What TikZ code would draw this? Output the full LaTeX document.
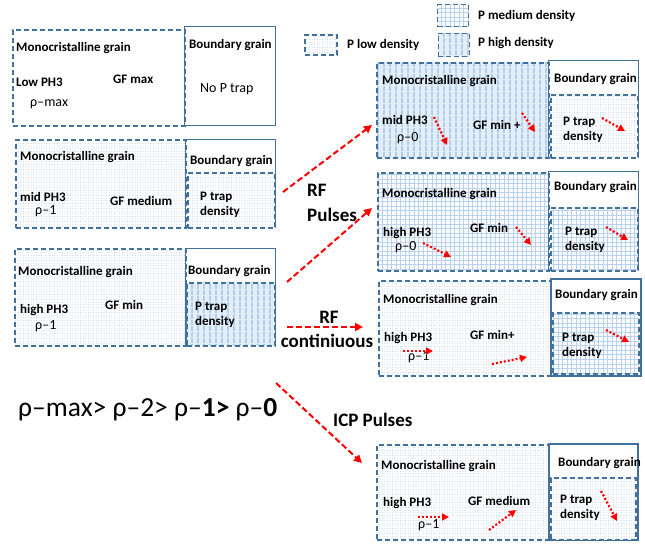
\documentclass[tikz,border=0pt]{standalone}
\usepackage{fontspec}
\setmainfont{Carlito}
\usetikzlibrary{patterns.meta,arrows.meta}
\definecolor{bdr}{RGB}{65,113,156}
\definecolor{patc}{RGB}{150,185,220}
\definecolor{gridc}{RGB}{185,210,236}
\definecolor{stripec}{RGB}{178,206,234}
\definecolor{stripebg}{RGB}{228,238,249}
\definecolor{arr}{RGB}{255,0,0}
\newcommand{\grainbox}[6]{\node[#6, minimum width={#4-#2}, minimum height={#5-#3}, anchor=north west, inner sep=0pt] (#1) at (#2,#3) {};}
\tikzset{
  dashb/.style={draw=bdr, line width=1.6pt, dash pattern=on 5pt off 3pt},
  solidb/.style={draw=bdr, line width=1.3pt},
  thickb/.style={draw=bdr, line width=2.2pt},
  lowd/.style={preaction={fill=white}, pattern={Dots[distance=2.6pt,radius=0.4pt]}, pattern color=patc},
  medd/.style={preaction={fill=blue!2}, pattern={Hatch[distance=4.5pt,angle=0,line width=1pt]}, pattern color=gridc},
  highd/.style={preaction={fill=stripebg}, pattern={Lines[distance=6pt,angle=90,line width=2.6pt]}, pattern color=stripec},
  lbl/.style={font=\bfseries\fontsize{13}{15}\selectfont, inner sep=0pt, anchor=west},
  rho/.style={font=\fontsize{14}{16}\selectfont, inner sep=0pt, anchor=west},
  trap/.style={font=\bfseries\fontsize{13}{15}\selectfont, inner sep=0pt, anchor=west, align=left},
  big/.style={draw=arr, line width=2pt, dash pattern=on 6pt off 3pt, -{Triangle[length=8pt,width=8pt]}},
  dotarr/.style={draw=arr, line width=2.2pt, dash pattern=on 2pt off 2pt, -{Triangle[length=7pt,width=7pt]}},
  title/.style={font=\bfseries\fontsize{19}{22}\selectfont, inner sep=0pt}
}
\begin{document}
\begin{tikzpicture}[x=1pt,y=-1pt]
\useasboundingbox (0,0) rectangle (645,544);
% legend
\grainbox{legl}{304}{34}{336}{54}{dashb,lowd}
\grainbox{legm}{437}{4}{468}{26}{dashb,medd}
\grainbox{legh}{437}{32}{468}{55}{dashb,highd}
\node[lbl] (legltxt) at (347,45) {P low density};
\node[lbl] (legmtxt) at (478,16) {P medium density};
\node[lbl] (leghtxt) at (478,43) {P high density};
% box 1
\grainbox{m1}{12}{29}{184}{125}{dashb}
\grainbox{b1}{184}{26}{275}{125}{solidb}
\node[lbl] (m1t) at (16,48) {Monocristalline grain};
\node[lbl] (b1t) at (189,45) {Boundary grain};
\node[lbl] (m1p) at (16,82) {Low PH3};
\node[lbl] (m1g) at (113,79) {GF max};
\node[rho] (m1r) at (30,104) {ρ–max};
\node[rho] (b1n) at (200,89) {No P trap};
% box 2
\grainbox{m2}{15}{139}{185}{227}{dashb,lowd}
\grainbox{b2}{185}{139}{275}{227}{solidb}
\grainbox{t2}{187}{172}{274}{227}{dashb,lowd}
\node[lbl] (m2t) at (20,157) {Monocristalline grain};
\node[lbl] (b2t) at (190,161) {Boundary grain};
\node[lbl] (m2p) at (20,197) {mid PH3};
\node[rho] (m2r) at (35,211) {ρ–1};
\node[lbl] (m2g) at (110,201) {GF medium};
\node[trap] (t2t) at (200,205) {P trap\\density};
% box 3
\grainbox{m3}{14}{248}{185}{345}{dashb,lowd}
\grainbox{b3}{185}{248}{275}{345}{solidb}
\grainbox{t3}{186}{282}{274}{345}{dashb,highd}
\node[lbl] (m3t) at (18,272) {Monocristalline grain};
\node[lbl] (b3t) at (188,271) {Boundary grain};
\node[lbl] (m3p) at (20,310) {high PH3};
\node[rho] (m3r) at (35,326) {ρ–1};
\node[lbl] (m3g) at (105,305) {GF min};
\node[trap] (t3t) at (195,315) {P trap\\density};
% box A
\grainbox{mA}{376}{62}{548}{157}{dashb,highd}
\grainbox{bA}{548}{60}{638}{157}{solidb}
\grainbox{tA}{550}{94}{637}{157}{dashb,lowd}
\node[lbl] (mAt) at (382,81) {Monocristalline grain};
\node[lbl] (bAt) at (554,79) {Boundary grain};
\node[lbl] (mAp) at (382,120) {mid PH3};
\node[rho] (mAr) at (397,138) {ρ–0};
\node[lbl] (mAg) at (473,125) {GF min +};
\node[trap] (tAt) at (563,129.5) {P trap\\density};
% box B
\grainbox{mB}{377}{172}{548}{270}{dashb,medd}
\grainbox{bB}{548}{171}{638}{270}{solidb}
\grainbox{tB}{550}{207}{637}{270}{dashb,medd}
\node[lbl] (mBt) at (382,194) {Monocristalline grain};
\node[lbl] (bBt) at (554,187) {Boundary grain};
\node[lbl] (mBp) at (383,233) {high PH3};
\node[rho] (mBr) at (395,247) {ρ–0};
\node[lbl] (mBg) at (470,228) {GF min};
\node[trap] (tBt) at (565,239.5) {P trap\\density};
% box C
\grainbox{mC}{378}{280}{550}{375}{dashb,lowd}
\grainbox{bC}{550}{278}{640}{375}{thickb}
\grainbox{tC}{552}{312}{638}{373}{dashb,medd}
\node[lbl] (mCt) at (383,300) {Monocristalline grain};
\node[lbl] (bCt) at (555,295) {Boundary grain};
\node[lbl] (mCp) at (384,338) {high PH3};
\node[rho] (mCr) at (408,357) {ρ–1};
\node[lbl] (mCg) at (470,335) {GF min+};
\node[trap] (tCt) at (562,345.5) {P trap\\density};
% box D
\grainbox{mD}{376}{444}{548}{539}{dashb,lowd}
\grainbox{bD}{548}{443}{637}{539}{thickb}
\grainbox{tD}{550}{477}{635}{539}{dashb,lowd}
\node[lbl] (mDt) at (381,466) {Monocristalline grain};
\node[lbl] (bDt) at (558,463) {Boundary grain};
\node[lbl] (mDp) at (383,503) {high PH3};
\node[rho] (mDr) at (418,525) {ρ–1};
\node[lbl] (mDg) at (468,501) {GF medium};
\node[trap] (tDt) at (560,508) {P trap\\density};
% small dotted arrows
\coordinate (a1s) at (434,117); \coordinate (a1e) at (447,145);
\coordinate (a2s) at (522,113); \coordinate (a2e) at (535,132);
\coordinate (a3s) at (602,118); \coordinate (a3e) at (625,131);
\coordinate (b1s) at (423,243); \coordinate (b1e) at (451,257);
\coordinate (b2s) at (516,227); \coordinate (b2e) at (531,245);
\coordinate (b3s) at (606,227); \coordinate (b3e) at (628,240);
\coordinate (c1s) at (403,351); \coordinate (c1e) at (433,351);
\coordinate (c2s) at (492,364); \coordinate (c2e) at (527,357);
\coordinate (c3s) at (606,330); \coordinate (c3e) at (629,342);
\coordinate (d1s) at (418,517); \coordinate (d1e) at (449,517);
\coordinate (d2s) at (489,530); \coordinate (d2e) at (516,510);
\coordinate (d3s) at (601,491); \coordinate (d3e) at (617,521);
\foreach \p in {a1,a2,a3,b1,b2,b3,c1,c2,c3,d1,d2,d3} {\draw[dotarr] (\p s) -- (\p e);}
% big arrows
\coordinate (g1s) at (283,192); \coordinate (g1e) at (372,125);
\coordinate (g2s) at (287,282); \coordinate (g2e) at (372,208);
\coordinate (g3s) at (287,327); \coordinate (g3e) at (363,327);
\coordinate (g4s) at (276,383); \coordinate (g4e) at (362,463);
\draw[big] (g1s) -- (g1e);
\draw[big] (g2s) -- (g2e);
\draw[big] (g3s) -- (g3e);
\draw[big] (g4s) -- (g4e);
% labels
\node[title, anchor=west] (rf1) at (307,190) {RF};
\node[title, anchor=west] (rf2) at (307,215) {Pulses};
\node[title] (rf3) at (329,317) {RF};
\node[title] (rf4) at (327,341) {continiuous};
\node[title, anchor=west] (icp) at (333,420) {ICP Pulses};
\node[inner sep=0pt, anchor=west, font=\fontsize{27.5}{30}\selectfont] (eq) at (18,410) {ρ–max> ρ–2> ρ–\textbf{1>} ρ–\textbf{0}};
\end{tikzpicture}
\end{document}
